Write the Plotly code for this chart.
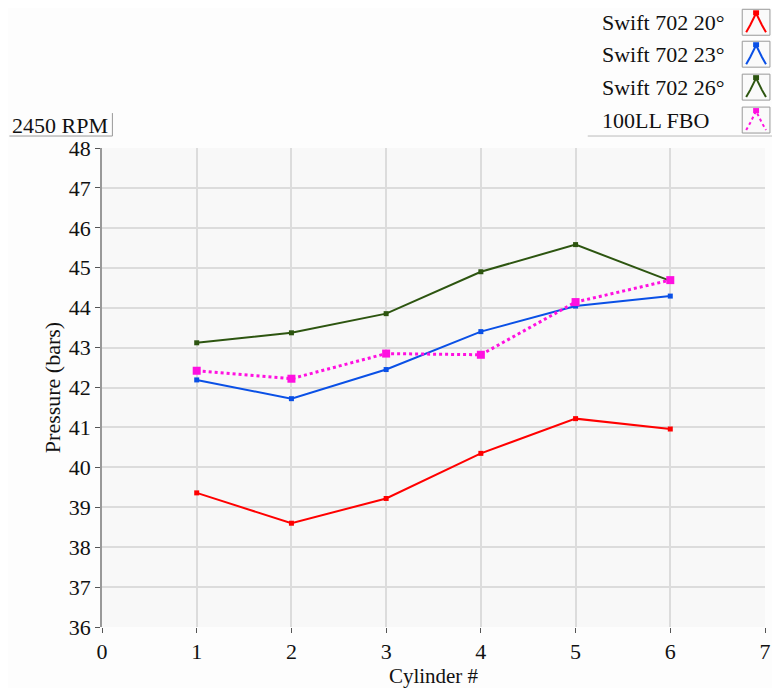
import plotly.graph_objects as go

cylinders = [1, 2, 3, 4, 5, 6]
swift20 = [39.36, 38.60, 39.22, 40.35, 41.22, 40.96]
swift23 = [42.19, 41.72, 42.45, 43.40, 44.04, 44.29]
swift26 = [43.12, 43.37, 43.85, 44.90, 45.58, 44.67]
fbo100ll = [42.42, 42.22, 42.85, 42.82, 44.14, 44.69]

names = ["Swift 702 20°", "Swift 702 23°", "Swift 702 26°", "100LL FBO"]
colors = ["#ff0000", "#0a50e6", "#2d5510", "#ff10e0"]
series = [swift20, swift23, swift26, fbo100ll]

OFF = 8  # page body margin
W, H = 780 - OFF, 688 - OFF
L, T = 101.5 - OFF, 148 - OFF
R = W - (771 - OFF)
B = H - (628 - OFF)
font = "Liberation Serif, Times New Roman, serif"

fig = go.Figure()
for i, (nm, col, ys) in enumerate(zip(names, colors, series)):
    dotted = i == 3
    fig.add_trace(go.Scatter(
        x=cylinders, y=ys, name=nm, mode="lines+markers",
        line=dict(color=col, width=3 if dotted else 2, dash="dot" if dotted else "solid"),
        marker=dict(symbol="square", size=8 if dotted else 5, color=col),
        showlegend=False))

pw, ph = W - L - R, H - T - B
def px(x): return (x - OFF - L) / pw
def py(y): return (H - B - (y - OFF)) / ph

shapes = []
annotations = []
row_y = [22, 54, 87, 120]
for i, (nm, col) in enumerate(zip(names, colors)):
    cy = row_y[i]
    annotations.append(dict(x=px(604), y=py(cy), xref="paper", yref="paper",
                            text=nm, showarrow=False, xanchor="left", yanchor="middle",
                            font=dict(family=font, size=22, color="#111")))
    x0, x1, y0, y1 = 748, 776, cy - 13, cy + 13
    shapes.append(dict(type="rect", xref="paper", yref="paper",
                       x0=px(x0), x1=px(x1), y0=py(y1), y1=py(y0),
                       line=dict(color="#999", width=1), fillcolor="#fafafa"))
    path = "M %f %f L %f %f L %f %f L %f %f L %f %f" % (
        px(752), py(cy + 10), px(756), py(cy + 3), px(762), py(cy - 9),
        px(768), py(cy + 3), px(772), py(cy + 10))
    shapes.append(dict(type="path", xref="paper", yref="paper", path=path,
                       line=dict(color=col, width=2, dash="dot" if i == 3 else "solid")))
    shapes.append(dict(type="rect", xref="paper", yref="paper",
                       x0=px(759), x1=px(765), y0=py(cy - 7), y1=py(cy - 12),
                       line=dict(color=col, width=0), fillcolor=col))

# legend frame line
shapes.append(dict(type="line", xref="paper", yref="paper",
                   x0=px(592), x1=px(782), y0=py(136), y1=py(136),
                   line=dict(color="#bbb", width=1)))
# 2450 RPM label box
shapes.append(dict(type="line", xref="paper", yref="paper",
                   x0=px(8), x1=px(112), y0=py(136), y1=py(136),
                   line=dict(color="#999", width=1)))
shapes.append(dict(type="line", xref="paper", yref="paper",
                   x0=px(112), x1=px(112), y0=py(113), y1=py(136),
                   line=dict(color="#999", width=1)))
annotations.append(dict(x=px(9), y=py(125), xref="paper", yref="paper",
                        text="2450 RPM", showarrow=False, xanchor="left", yanchor="middle",
                        font=dict(family=font, size=22, color="#111")))

fig.update_layout(
    width=W, height=H,
    margin=dict(l=L, r=R, t=T, b=B),
    paper_bgcolor="#fdfdfd", plot_bgcolor="#f8f8f8",
    font=dict(family=font, size=21, color="#111"),
    shapes=shapes, annotations=annotations,
    xaxis=dict(range=[0, 7], dtick=1, showgrid=True, gridcolor="#dcdcdc", gridwidth=1.5,
               zeroline=False, showline=False, ticks="outside", ticklen=5, tickcolor="#555",
               title=dict(text="Cylinder #", font=dict(size=21), standoff=0),
               tickfont=dict(size=22)),
    yaxis=dict(range=[36, 48], dtick=1, showgrid=True, gridcolor="#dcdcdc", gridwidth=1.5,
               zeroline=False, showline=True, linecolor="#999", linewidth=1.5,
               ticks="outside", ticklen=5, tickcolor="#555",
               title=dict(text="Pressure (bars)", font=dict(size=22), standoff=2),
               tickfont=dict(size=22)),
)

fig.write_html("out.html")
